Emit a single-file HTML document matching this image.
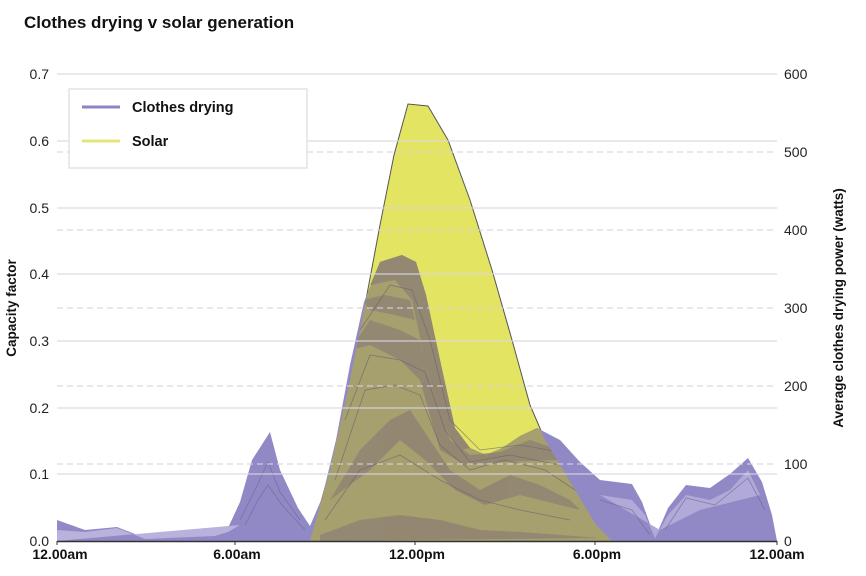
<!DOCTYPE html>
<html><head><meta charset="utf-8"><style>
body{margin:0;background:#fff;}
svg{display:block;font-family:"Liberation Sans",sans-serif;}
</style></head><body>
<svg width="866" height="576" viewBox="0 0 866 576">
<defs>
<clipPath id="sol"><path d="M310,541 L330,470 L348,390 L365,305 L380,225 L394,155 L408,104 L428,106 L448,140 L470,200 L492,270 L512,340 L530,405 L545,440 L568,478 L596,525 L612,541 Z"/></clipPath>
<path id="cl" d="M57,520 L85,530 L117,527 L145,538 L180,533 L215,535 L228,528 L240,502 L252,460 L270,432 L280,470 L298,508 L310,526 L322,498 L336,440 L350,365 L364,302 L380,262 L402,255 L416,262 L426,295 L440,360 L455,428 L470,448 L486,455 L502,448 L520,436 L537,428 L560,440 L580,462 L600,480 L632,484 L642,502 L655,538 L668,508 L686,485 L710,488 L730,474 L748,458 L762,482 L772,515 L777,541 L57,541 Z"/>
</defs>
<text x="24" y="28" font-size="17" font-weight="bold" fill="#111">Clothes drying v solar generation</text>
<!-- solar -->
<path d="M310,541 L330,470 L348,390 L365,305 L380,225 L394,155 L408,104 L428,106 L448,140 L470,200 L492,270 L512,340 L530,405 L545,440 L568,478 L596,525 L612,541 Z" fill="#e4e463" stroke="#555" stroke-width="1"/>
<!-- clothes envelope -->
<use href="#cl" fill="#9189c6"/>
<path d="M57,530 L85,532 L117,528 L145,539 L215,536 L228,532 L240,525 L57,541Z" fill="#b8b2dc"/>
<path d="M600,495 L632,500 L645,515 L655,538 L668,515 L686,495 L710,500 L730,490 L748,470 L760,495 L700,510 L660,530 Z" fill="#b1aad8"/>
<g clip-path="url(#sol)">
<use href="#cl" fill="#a69f6e"/>
<g fill="#8f8274" opacity="0.8">
<path d="M350,350 L370,320 L400,330 L420,340 L435,400 L450,440 L470,455 L500,452 L530,440 L560,450 L560,460 L500,462 L465,465 L440,450 L420,380 L400,360 L370,345 Z"/>
<path d="M330,500 L360,450 L390,420 L410,410 L430,440 L450,470 L480,490 L510,475 L540,485 L570,500 L580,510 L520,495 L485,505 L455,490 L425,460 L400,440 L370,470 Z"/>
<path d="M320,535 L360,520 L400,515 L440,520 L480,530 L520,532 L560,535 L600,538 L320,541Z"/>
<path d="M362,300 L385,295 L410,300 L415,320 L395,315 L370,310Z"/>
<path d="M380,262 L402,255 L416,262 L426,295 L440,360 L455,428 L470,448 L460,450 L440,420 L425,360 L412,300 L395,280 L370,285Z"/>
</g>
<g fill="none" stroke="#6d6470" stroke-width="0.8" opacity="0.7">
<path d="M335,480 L365,390 L395,385 L420,395 L440,445 L470,470 L505,460 L545,470 L590,500"/>
<path d="M345,420 L370,355 L400,360 L425,372 L445,430 L470,462 L510,455 L560,465"/>
<path d="M360,330 L390,285 L412,290 L430,340 L450,420 L480,450 L520,445 L560,452"/>
<path d="M325,520 L360,470 L400,455 L440,480 L480,500 L520,510 L570,520"/>
</g>
</g>
<g fill="none" stroke="#6f6690" stroke-width="0.8" opacity="0.7">
<path d="M240,520 L255,490 L268,462 L280,492 L300,520"/>
<path d="M245,525 L258,500 L268,485 L282,505 L305,530"/>
<path d="M665,530 L686,498 L715,505 L748,478 L765,510"/>
<path d="M600,500 L632,510 L650,535"/>
</g>
<!-- grid on top -->
<g stroke="#d8d6e2" stroke-width="1.2" opacity="0.9">
<line x1="57" x2="777" y1="74" y2="74"/><line x1="57" x2="777" y1="141" y2="141"/><line x1="57" x2="777" y1="208" y2="208"/><line x1="57" x2="777" y1="274" y2="274"/><line x1="57" x2="777" y1="341" y2="341"/><line x1="57" x2="777" y1="408" y2="408"/><line x1="57" x2="777" y1="474" y2="474"/>
</g>
<g stroke="#d6d4de" stroke-width="1.2" stroke-dasharray="6,4" opacity="0.9">
<line x1="57" x2="777" y1="152" y2="152"/><line x1="57" x2="777" y1="230" y2="230"/><line x1="57" x2="777" y1="308" y2="308"/><line x1="57" x2="777" y1="386" y2="386"/><line x1="57" x2="777" y1="464" y2="464"/>
</g>
<!-- axis -->
<line x1="57" x2="777" y1="541.5" y2="541.5" stroke="#333" stroke-width="1.5"/>
<g stroke="#333" stroke-width="1"><line x1="57" x2="57" y1="541" y2="545"/><line x1="235" x2="235" y1="541" y2="545"/><line x1="415" x2="415" y1="541" y2="545"/><line x1="595" x2="595" y1="541" y2="545"/><line x1="777" x2="777" y1="541" y2="545"/></g>
<g font-size="14" fill="#222" text-anchor="end">
<text x="49" y="79">0.7</text><text x="49" y="146">0.6</text><text x="49" y="213">0.5</text><text x="49" y="279">0.4</text><text x="49" y="346">0.3</text><text x="49" y="413">0.2</text><text x="49" y="479">0.1</text><text x="49" y="546">0.0</text>
</g>
<g font-size="14" fill="#222">
<text x="784" y="79">600</text><text x="784" y="157">500</text><text x="784" y="235">400</text><text x="784" y="313">300</text><text x="784" y="391">200</text><text x="784" y="469">100</text><text x="784" y="546">0</text>
</g>
<g font-size="14" font-weight="bold" fill="#111" text-anchor="middle">
<text x="60" y="559">12.00am</text><text x="237" y="559">6.00am</text><text x="417" y="559">12.00pm</text><text x="597" y="559">6.00pm</text><text x="777" y="559">12.00am</text>
</g>
<text transform="translate(16,308) rotate(-90)" font-size="13.5" font-weight="bold" text-anchor="middle" fill="#111">Capacity factor</text>
<text transform="translate(843,308) rotate(-90)" font-size="13.5" font-weight="bold" text-anchor="middle" fill="#111">Average clothes drying power (watts)</text>
<!-- legend -->
<rect x="69" y="89" width="238" height="79" fill="#fff" stroke="#dcdbe3" stroke-width="1.2"/>
<line x1="82" x2="120" y1="107" y2="107" stroke="#8d84c4" stroke-width="3"/>
<line x1="82" x2="120" y1="141" y2="141" stroke="#e4e47a" stroke-width="3"/>
<text x="132" y="112" font-size="14.5" font-weight="bold" fill="#111">Clothes drying</text>
<text x="132" y="146" font-size="14.5" font-weight="bold" fill="#111">Solar</text>
</svg>
</body></html>
